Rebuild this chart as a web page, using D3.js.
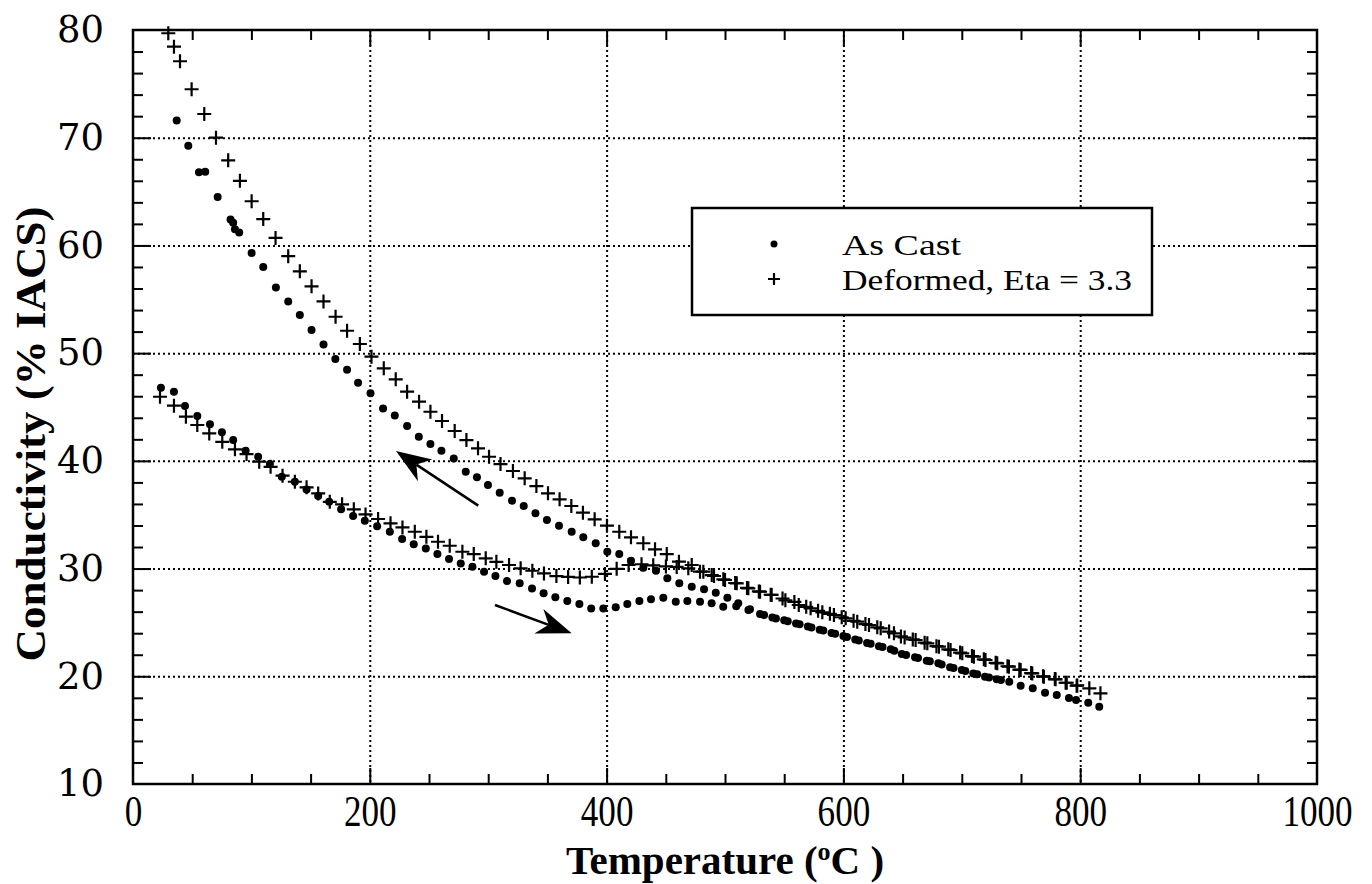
<!DOCTYPE html>
<meta charset="utf-8">
<script src="https://d3js.org/d3.v7.min.js"></script>
<style>
  body { margin: 0; background: #fff; }
  text { fill: #000; }
</style>
<div id="chart"></div>
<script>

// ---- data: [temperature (C), conductivity (% IACS)] ----
// As cast, heating run (lower dots)
const asCastHeating = [[23.6,46.79],[34.6,46.42],[43.9,45.09],[54.3,44.16],[65.0,43.39],[75.1,42.65],[84.6,41.93],
  [95.1,40.94],[105.7,40.38],[115.6,39.70],[125.7,38.52],[136.7,38.06],[146.6,37.35],[156.4,36.73],[165.7,36.20],
  [175.8,35.50],[185.9,34.87],[195.8,34.44],[206.2,33.94],[216.9,33.42],[227.3,32.74],[237.1,32.25],[247.3,31.87],
  [257.1,31.35],[266.9,30.88],[276.8,30.48],[286.7,30.17],[296.5,29.70],[306.1,29.30],[315.9,28.84],[326.6,28.63],
  [337.0,28.16],[346.8,27.70],[356.7,27.33],[366.8,27.00],[377.0,26.70],[387.0,26.30],[397.2,26.30],[407.7,26.40],
  [417.5,26.70],[427.7,26.99],[437.5,27.15],[447.9,27.30],[458.4,26.92],[468.2,26.99],[478.9,26.92],[488.7,26.77],
  [498.5,26.46],[509.5,26.50],[519.8,26.15],[533,25.68],[543,25.37],[553,25.11],[563,24.82],[573,24.54],[583,24.24],
  [593,23.94],[603,23.64],[613,23.32],[623,23.01],[633,22.71],[643,22.37],[653,21.98],[663,21.69],[673,21.39],
  [683,21.10],[693,20.77],[703,20.49],[713,20.18],[723,19.89],[733,19.66]];

// As cast, cooling run (upper dots)
const asCastCooling = [[816.1,17.17],[806.8,17.55],[796.5,17.80],[790.5,17.98],[780.2,18.26],[770.3,18.48],
  [759.9,18.88],[749.7,19.12],[740.1,19.50],[729.5,19.72],[719.6,19.96],[709.7,20.27],[700.0,20.58],[690.1,20.83],
  [680.2,21.20],[670.4,21.45],[660.5,21.76],[649.3,22.07],[640,22.50],[630,22.80],[620,23.10],[610,23.42],[600,23.73],
  [590,24.03],[580,24.33],[570,24.63],[560,24.90],[550,25.20],[540,25.45],[529.6,25.78],[521.1,26.22],[511.2,26.77],
  [502,27.30],[492.2,27.76],[482.3,28.07],[471.9,28.32],[461.4,28.63],[451.3,29.09],[441.7,29.80],[431,30.08],
  [420.6,30.73],[410.7,31.35],[400.6,31.56],[390.8,32.35],[380.3,32.90],[370.5,33.42],[359.8,33.97],[349.6,34.50],
  [339.9,35.13],[330,35.80],[320.1,36.30],[309.7,37.04],[299.8,37.75],[290.5,38.47],[281,38.99],[270.9,40.23],
  [260.5,40.94],[251.2,41.56],[241.4,42.24],[231.5,43.23],[221.1,44.20],[211.2,44.87],[200.6,46.27],[190.1,47.25],
  [180.8,48.46],[170.9,49.45],[160.9,50.80],[150.8,52.15],[140.9,53.54],[131.1,54.80],[120.7,56.10],[110.0,58.00],
  [100.2,59.30],[89.7,61.20],[86.1,61.50],[84.6,62.10],[82.4,62.40],[71.5,64.50],[61.0,66.85],[55.7,66.80],
  [46.7,69.26],[36.9,71.60]];

// Deformed (eta = 3.3), heating run (lower crosses)
const deformedHeating = [[22.8,45.95],[34.6,45.12],[44.7,44.10],[54.3,43.33],[64.4,42.55],[75.4,41.77],[86.1,41.07],
  [95.9,40.63],[106.6,39.92],[116.2,39.45],[126.3,38.62],[136.7,38.06],[146.6,37.54],[156.4,36.98],[166.2,36.20],
  [176.6,35.96],[186.5,35.50],[196.4,35.03],[207.0,34.60],[217.5,34.20],[227.6,33.82],[238.0,33.42],[247.8,32.95],
  [257.6,32.49],[267.5,32.12],[278.2,31.56],[287.8,31.35],[297.9,30.95],[306.9,30.63],[317.6,30.33],[327.4,30.02],
  [337.3,29.80],[347.1,29.55],[357.6,29.30],[367.5,29.22],[377.4,29.17],[387.5,29.24],[398.6,29.50],[408.5,29.98],
  [418.6,30.33],[429.5,30.40],[439.4,30.30],[450.1,30.20],[459.2,30.15],[469.0,30.02],[478.9,29.71],[488.8,29.40],
  [498.6,29.00],[508.6,28.66],[518.6,28.20],[528.6,27.88],[538.6,27.57],[548.6,27.22],[558.6,26.90],[568.6,26.45],
  [578.6,26.08],[588.6,25.80],[598.6,25.48],[608.6,25.15],[618.6,24.85],[628.6,24.55],[638.6,24.15],[648.6,23.70],
  [658.6,23.42],[668.6,23.12],[678.6,22.80],[688.6,22.50],[698.6,22.20],[708.6,21.88],[718.6,21.57],[728.6,21.25],
  [738.6,20.93],[748.6,20.62],[758.6,20.30],[768.6,20.00],[778.6,19.74],[788.6,19.40],[797.0,19.12]];

// Deformed (eta = 3.3), cooling run (upper crosses)
const deformedCooling = [[817.1,18.42],[807.7,18.88],[797.5,19.15],[787.7,19.40],[779.2,19.72],[769.3,19.96],
  [759.5,20.27],[749.7,20.59],[739.8,20.89],[729.9,21.20],[720.0,21.51],[710.2,21.82],[700.4,22.13],[690.5,22.44],
  [680.7,22.75],[670.9,23.06],[661.0,23.37],[651.7,23.60],[642.7,23.99],[631.5,24.45],[621.6,24.76],[611.7,25.07],
  [601.9,25.38],[592.0,25.69],[582.2,25.94],[572.3,26.31],[562.3,26.62],[551.0,27.05],[539.4,27.55],[529.6,27.85],
  [519.7,28.17],[509.9,28.63],[500.0,28.94],[490.7,29.31],[481.7,29.71],[471.9,30.33],[461.1,30.64],[450.8,31.35],
  [440.9,31.79],[431.0,32.35],[420.6,32.90],[410.7,33.42],[400.3,33.98],[389.9,34.57],[380.0,35.19],[370.2,35.81],
  [360.3,36.43],[350.5,36.99],[340.7,37.66],[330.8,38.38],[320.9,39.06],[310.4,39.70],[300.7,40.38],[291.4,41.16],
  [281.6,41.93],[271.7,42.77],[261.0,43.70],[251.2,44.56],[241.6,45.49],[231.5,46.42],[221.9,47.57],[211.8,48.59],
  [201.4,49.67],[191.6,50.85],[180.8,52.08],[171.1,53.38],[160.9,54.80],[150.8,56.20],[140.9,57.60],[131.1,59.00],
  [120.4,60.70],[110.0,62.45],[100.2,64.10],[90.3,66.00],[80.4,67.90],[70.1,70.00],[60.2,72.20],[49.5,74.50],
  [39.7,77.10],[34.6,78.45],[29.8,79.70]];

const xTicks = [0, 200, 400, 600, 800, 1000];
const yTicks = [10, 20, 30, 40, 50, 60, 70, 80];
const legendLabels = ["As Cast", "Deformed, Eta = 3.3"];

// arrows drawn on the plot (data units): heating goes right, cooling goes left
const arrows = [
  { from: [291.6, 35.84], to: [222.1, 40.91] },
  { from: [305.7, 26.62], to: [370.5, 23.99] }
];

// ---- layout ----
var margin = { top: 30, right: 55, bottom: 100, left: 133 },
    width = 1372 - margin.left - margin.right,
    height = 884 - margin.top - margin.bottom;

var serif = "'Liberation Serif', 'Times New Roman', serif";

var x = d3.scaleLinear().domain([0, 1000]).range([0, width]);
var y = d3.scaleLinear().domain([10, 80]).range([height, 0]);

var svg = d3.select("#chart").append("svg")
    .attr("width", 1372)
    .attr("height", 884);

var g = svg.append("g")
    .attr("transform", "translate(" + margin.left + "," + margin.top + ")");

// dotted grid
var xGrid = xTicks.slice(1, -1), yGrid = yTicks.slice(1, -1);

g.append("g")
    .call(d3.axisBottom(x).tickValues(xGrid).tickSize(height).tickFormat(""))
    .call(a => a.select(".domain").remove())
    .selectAll("line")
    .attr("stroke", "#000").attr("stroke-width", 2).attr("stroke-dasharray", "2,3");

g.append("g")
    .call(d3.axisLeft(y).tickValues(yGrid).tickSize(-width).tickFormat(""))
    .call(a => a.select(".domain").remove())
    .selectAll("line")
    .attr("stroke", "#000").attr("stroke-width", 2).attr("stroke-dasharray", "2,3");

// inside ticks: minor every 50 C / 2 %, major at labels
var xMinor = d3.range(50, 1000, 50).filter(d => d % 200 !== 0);
var yMinor = d3.range(12, 80, 2).filter(d => d % 10 !== 0);

function ticks(axis, transform) {
  g.append("g")
      .attr("transform", transform)
      .call(axis)
      .call(a => a.select(".domain").remove())
      .selectAll("line").attr("stroke", "#000").attr("stroke-width", 2);
}
ticks(d3.axisBottom(x).tickValues(xMinor).tickSize(-10).tickFormat(""), "translate(0," + height + ")");
ticks(d3.axisTop(x).tickValues(xMinor).tickSize(-10).tickFormat(""), "translate(0,0)");
ticks(d3.axisLeft(y).tickValues(yMinor).tickSize(-10).tickFormat(""), "translate(0,0)");
ticks(d3.axisRight(y).tickValues(yMinor).tickSize(-10).tickFormat(""), "translate(" + width + ",0)");
ticks(d3.axisBottom(x).tickValues(xGrid).tickSize(-16).tickFormat(""), "translate(0," + height + ")");
ticks(d3.axisTop(x).tickValues(xGrid).tickSize(-16).tickFormat(""), "translate(0,0)");
ticks(d3.axisLeft(y).tickValues(yGrid).tickSize(-18).tickFormat(""), "translate(0,0)");
ticks(d3.axisRight(y).tickValues(yGrid).tickSize(-18).tickFormat(""), "translate(" + width + ",0)");

// frame
g.append("rect")
    .attr("width", width).attr("height", height)
    .attr("fill", "none").attr("stroke", "#000").attr("stroke-width", 2.5);

// tick labels
g.append("g")
    .attr("transform", "translate(0," + height + ")")
    .call(d3.axisBottom(x).tickValues(xTicks).tickSize(0).tickFormat(d3.format("d")))
    .call(a => a.select(".domain").remove())
    .selectAll("text")
    .attr("y", 0).attr("dy", null)
    .attr("transform", "translate(0,42) scale(0.78,1)")
    .style("font-family", serif).style("font-size", "45px");

g.append("g")
    .call(d3.axisLeft(y).tickValues(yTicks).tickSize(0).tickPadding(29))
    .call(a => a.select(".domain").remove())
    .selectAll("text")
    .style("font-family", "'DejaVu Serif', serif").style("font-size", "37px");

// axis titles
var xTitle = svg.append("text")
    .attr("x", 725)
    .attr("y", 874)
    .attr("text-anchor", "middle")
    .style("font-family", serif).style("font-size", "41px").style("font-weight", "bold");
xTitle.append("tspan").text("Temperature (");
xTitle.append("tspan").attr("dy", -14).style("font-size", "26px").text("o");
xTitle.append("tspan").attr("dy", 14).text("C )");

svg.append("text")
    .attr("transform", "translate(45," + (margin.top + y(42.5)) + ") rotate(-90)")
    .attr("text-anchor", "middle")
    .attr("textLength", 455)
    .attr("lengthAdjust", "spacingAndGlyphs")
    .style("font-family", serif).style("font-size", "42px").style("font-weight", "bold")
    .text("Conductivity (%  IACS)");

// markers
function plus(sel, s) {
  sel.append("path")
      .attr("d", "M" + (-s) + ",0H" + s + "M0," + (-s) + "V" + s)
      .attr("stroke", "#000").attr("stroke-width", 2.2).attr("fill", "none");
}

[asCastHeating, asCastCooling].forEach(series => {
  g.append("g").selectAll("circle")
      .data(series)
      .join("circle")
      .attr("cx", d => x(d[0]))
      .attr("cy", d => y(d[1]))
      .attr("r", 4)
      .attr("fill", "#000");
});

[deformedHeating, deformedCooling].forEach(series => {
  g.append("g").selectAll("g")
      .data(series)
      .join("g")
      .attr("transform", d => "translate(" + x(d[0]) + "," + y(d[1]) + ")")
      .call(plus, 7);
});

// arrows
arrows.forEach(a => {
  var x0 = x(a.from[0]), y0 = y(a.from[1]), x1 = x(a.to[0]), y1 = y(a.to[1]);
  var L = Math.hypot(x1 - x0, y1 - y0), ux = (x1 - x0) / L, uy = (y1 - y0) / L;
  var len = 35, half = 13;
  var bx = x1 - len * ux, by = y1 - len * uy;
  var nx = x1 - 0.7 * len * ux, ny = y1 - 0.7 * len * uy;
  g.append("line")
      .attr("x1", x0).attr("y1", y0).attr("x2", nx).attr("y2", ny)
      .attr("stroke", "#000").attr("stroke-width", 2.5);
  g.append("path")
      .attr("d", "M" + x1 + "," + y1 +
        "L" + (bx - half * uy) + "," + (by + half * ux) +
        "L" + nx + "," + ny +
        "L" + (bx + half * uy) + "," + (by - half * ux) + "Z")
      .attr("fill", "#000");
});

// legend
var legend = svg.append("g").attr("transform", "translate(692,208)");
legend.append("rect")
    .attr("width", 460).attr("height", 107)
    .attr("fill", "#fff").attr("stroke", "#000").attr("stroke-width", 2.5);

legendLabels.forEach((label, i) => {
  var row = legend.append("g").attr("transform", "translate(82," + (36 + i * 35) + ")");
  if (i === 0) row.append("circle").attr("r", 3.5).attr("fill", "#000");
  else row.call(plus, 6);
  row.append("text")
      .attr("x", 68).attr("y", 11)
      .attr("textLength", i === 0 ? 119 : 290)
      .attr("lengthAdjust", "spacingAndGlyphs")
      .style("font-family", serif).style("font-size", "30px")
      .text(label);
});

</script>
